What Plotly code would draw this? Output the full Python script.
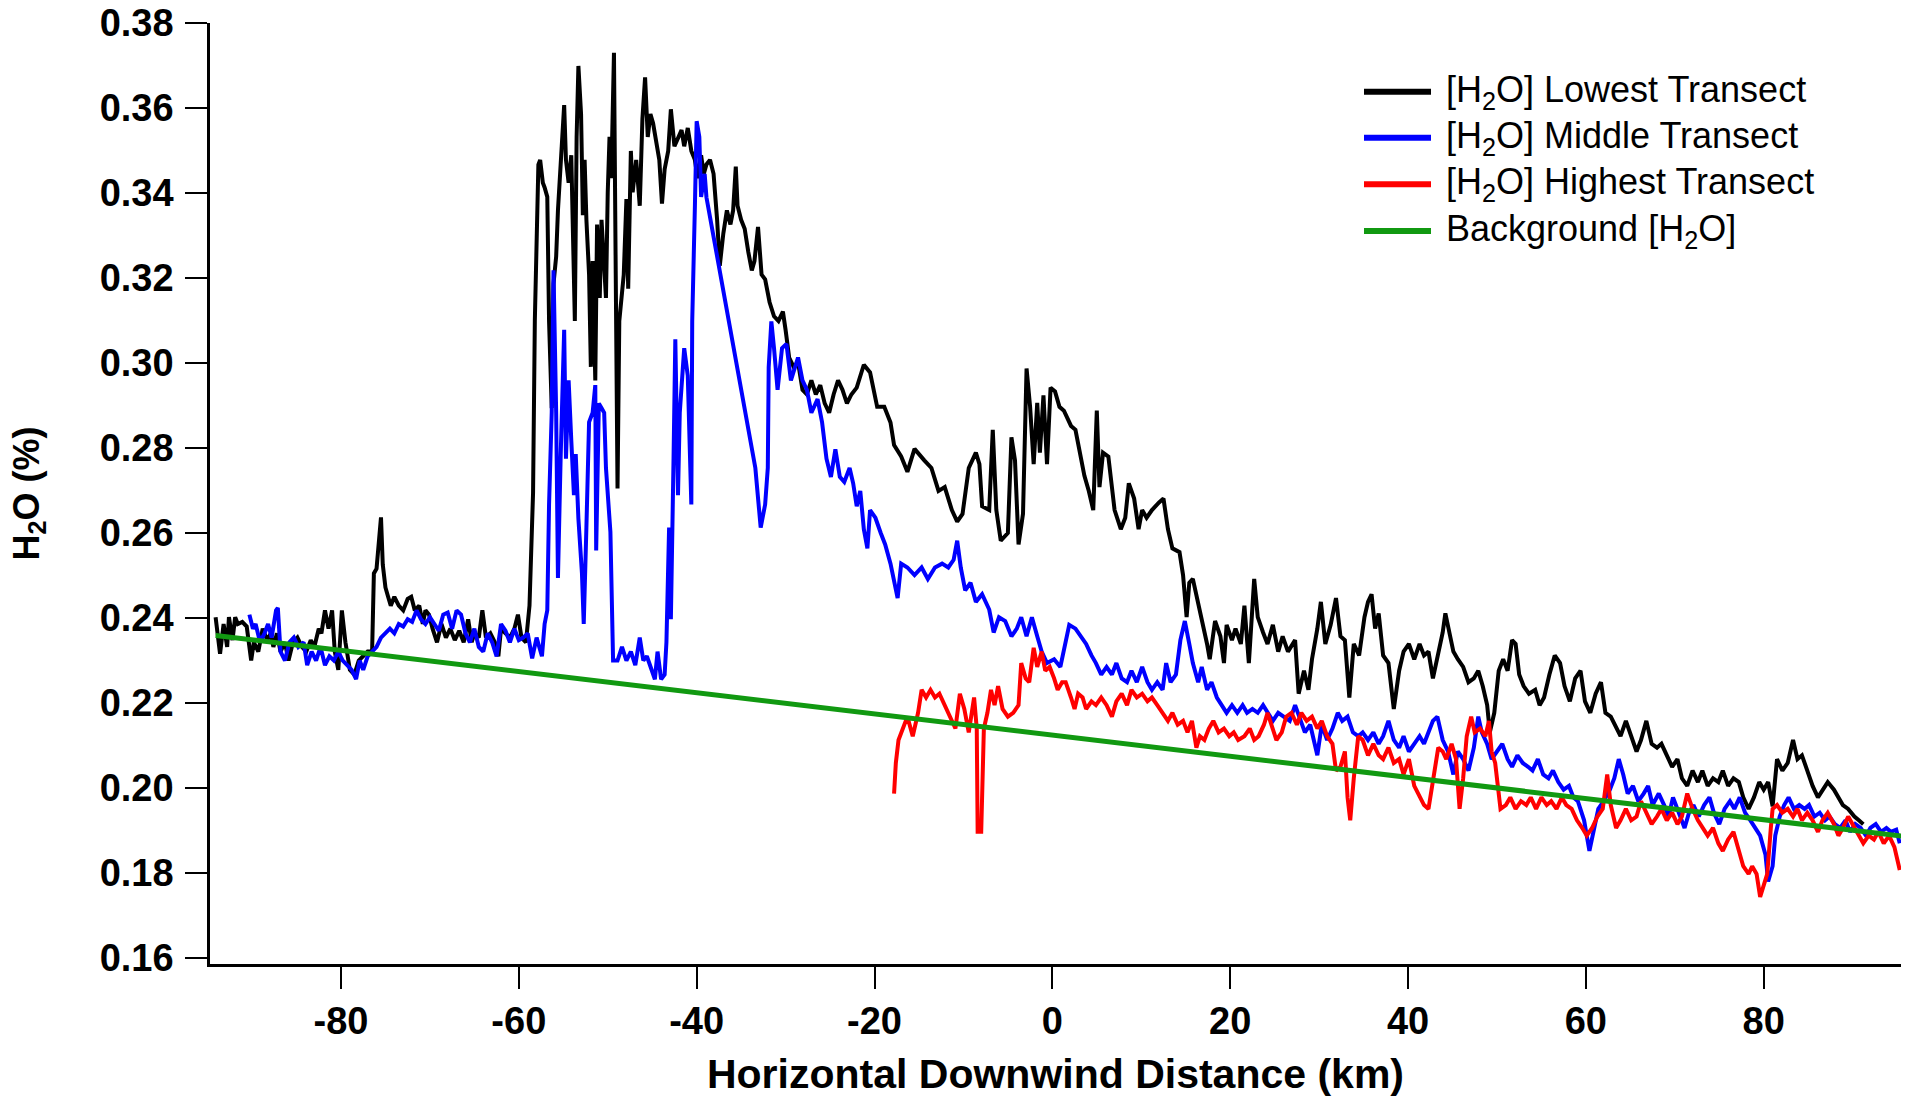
import plotly.graph_objects as go

# ---------------- data ----------------
low_x = [-94.1, -93.8, -93.6, -93.2, -92.8, -92.6, -92.2, -91.9, -91.6, -91.1, -90.6, -90.1, -89.8, -89.3, -88.8,
         -88.3, -87.9, -87.6, -87.2, -86.8, -86.3, -85.9, -85.4, -84.9, -84.4, -83.9, -83.4, -83.0, -82.5, -82.2,
         -81.8, -81.4, -81.0, -80.7, -80.3, -79.9, -79.5, -79.0, -78.5, -78.0, -77.5, -77.0, -76.5, -76.3, -76.0,
         -75.8, -75.5, -75.3, -75.0, -74.7, -74.4, -74.0, -73.5, -73.0, -72.5, -72.1, -71.7, -71.2, -70.8, -70.5,
         -70.1, -69.7, -69.2, -68.7, -68.2, -67.7, -67.2, -66.7, -66.2, -65.7, -65.3, -65.0, -64.5, -64.1, -63.7,
         -63.2, -62.7, -62.3, -62.0, -61.5, -61.0, -60.5, -60.1, -59.7, -59.2, -58.8, -58.6, -58.4, -58.2, -58.0,
         -57.8, -57.6, -57.3, -57.1, -56.8, -56.6, -56.3, -56.1, -55.8, -55.6, -55.3, -54.9, -54.7, -54.4, -54.1,
         -53.8, -53.7, -53.5, -53.3, -53.0, -52.8, -52.6, -52.4, -52.1, -51.9, -51.7, -51.4, -51.2, -50.9, -50.7,
         -50.4, -50.2, -50.0, -49.8, -49.6, -49.3, -49.1, -48.9, -48.7, -48.4, -48.2, -47.9, -47.7, -47.4, -47.2,
         -46.8, -46.4, -46.1, -45.8, -45.5, -45.2, -44.9, -44.5, -44.2, -43.9, -43.6, -43.2, -42.9, -42.5, -42.1,
         -41.7, -41.4, -41.0, -40.6, -40.2, -39.9, -39.5, -39.2, -38.9, -38.5, -38.1, -37.7, -37.4, -37.0, -36.6,
         -36.2, -35.9, -35.6, -35.4, -35.0, -34.6, -34.2, -33.8, -33.5, -33.1, -32.7, -32.3, -31.8, -31.3, -30.8,
         -30.3, -30.0, -29.6, -29.1, -28.6, -28.1, -27.6, -27.1, -26.6, -26.1, -25.6, -25.1, -24.6, -24.1, -23.6,
         -23.1, -22.6, -22.0, -21.2, -20.5, -19.7, -18.9, -18.2, -17.8, -17.0, -16.3, -15.5, -14.4, -13.6, -12.8,
         -12.1, -11.3, -10.7, -10.1, -9.4, -8.6, -8.2, -7.9, -7.1, -6.7, -6.3, -5.8, -5.0, -4.6, -4.2,
         -3.8, -3.3, -2.9, -2.5, -2.1, -1.7, -1.4, -1.0, -0.6, -0.2, 0.3, 0.8, 1.3, 2.1, 2.6,
         3.2, 3.6, 4.1, 4.6, 5.0, 5.3, 5.7, 6.3, 6.7, 7.0, 7.7, 8.2, 8.6, 9.2, 9.7,
         10.1, 10.6, 11.2, 12.0, 12.5, 13.0, 13.5, 14.3, 14.7, 15.1, 15.4, 15.8, 16.4, 16.8, 17.4,
         17.7, 18.3, 18.9, 19.3, 19.6, 20.2, 20.6, 21.2, 21.6, 22.1, 22.7, 23.1, 23.7, 24.2, 24.8,
         25.4, 25.9, 26.5, 27.3, 27.7, 28.3, 28.8, 29.2, 29.8, 30.2, 30.7, 31.3, 31.9, 32.4, 32.9,
         33.4, 33.9, 34.5, 35.1, 35.5, 35.9, 36.3, 36.7, 37.2, 37.8, 38.4, 39.0, 39.5, 40.1, 40.7,
         41.3, 41.8, 42.3, 42.8, 43.3, 43.9, 44.2, 44.6, 45.1, 45.6, 46.2, 46.8, 47.4, 47.9, 48.4,
         48.9, 49.2, 49.7, 50.2, 50.7, 51.2, 51.7, 52.1, 52.5, 53.0, 53.6, 54.3, 54.8, 55.3, 55.9,
         56.5, 57.1, 57.6, 58.2, 58.8, 59.4, 59.9, 60.5, 61.1, 61.7, 62.2, 62.8, 63.4, 63.9, 64.5,
         65.1, 65.7, 66.2, 66.8, 67.4, 68.0, 68.5, 69.1, 69.7, 70.3, 70.8, 71.4, 72.0, 72.6, 73.1,
         73.7, 74.3, 74.9, 75.4, 76.0, 76.6, 77.2, 77.7, 78.3, 78.9, 79.5, 80.0, 80.5, 81.0, 81.5,
         82.1, 82.7, 83.3, 83.8, 84.3, 84.9, 85.5, 86.1, 86.6, 87.2, 87.9, 88.4, 88.9, 89.5, 90.2,
         90.7, 91.2]
low_y = [0.2402, 0.2348, 0.2316, 0.2386, 0.2332, 0.2402, 0.2348, 0.2402, 0.2386, 0.2391, 0.2380, 0.2300, 0.2343, 0.2321, 0.2375,
         0.2348, 0.2364, 0.2332, 0.2364, 0.2321, 0.2343, 0.2300, 0.2343, 0.2354, 0.2332, 0.2321, 0.2348, 0.2332, 0.2375, 0.2364,
         0.2418, 0.2375, 0.2418, 0.2321, 0.2278, 0.2418, 0.2343, 0.2278, 0.2267, 0.2300, 0.2310, 0.2321, 0.2321, 0.2505, 0.2516,
         0.2559, 0.2637, 0.2526, 0.2472, 0.2450, 0.2429, 0.2450, 0.2429, 0.2418, 0.2445, 0.2450, 0.2418, 0.2429, 0.2386, 0.2418,
         0.2408, 0.2375, 0.2343, 0.2386, 0.2354, 0.2375, 0.2348, 0.2370, 0.2343, 0.2397, 0.2343, 0.2364, 0.2354, 0.2418, 0.2354,
         0.2364, 0.2343, 0.2310, 0.2375, 0.2364, 0.2354, 0.2375, 0.2408, 0.2354, 0.2343, 0.2429, 0.2559, 0.2694, 0.3099, 0.3315,
         0.3467, 0.3478, 0.3424, 0.3413, 0.3391, 0.3099, 0.2894, 0.3186, 0.3251, 0.3359, 0.3456, 0.3607, 0.3478, 0.3424, 0.3489,
         0.3251, 0.3099, 0.3532, 0.3699, 0.3586, 0.3348, 0.3478, 0.3337, 0.3208, 0.2991, 0.3240, 0.2959, 0.3326, 0.3153, 0.3337,
         0.3208, 0.3153, 0.3402, 0.3532, 0.3435, 0.3730, 0.3208, 0.2705, 0.3099, 0.3164, 0.3208, 0.3386, 0.3175, 0.3499, 0.3402,
         0.3478, 0.3370, 0.3575, 0.3672, 0.3532, 0.3586, 0.3564, 0.3510, 0.3478, 0.3375, 0.3456, 0.3499, 0.3597, 0.3510, 0.3532,
         0.3548, 0.3510, 0.3553, 0.3499, 0.3478, 0.3435, 0.3489, 0.3445, 0.3467, 0.3478, 0.3445, 0.3337, 0.3229, 0.3305, 0.3359,
         0.3326, 0.3359, 0.3462, 0.3370, 0.3337, 0.3316, 0.3262, 0.3218, 0.3240, 0.3320, 0.3208, 0.3197, 0.3143, 0.3110, 0.3099,
         0.3121, 0.3078, 0.3013, 0.2991, 0.3002, 0.2937, 0.2926, 0.2959, 0.2926, 0.2948, 0.2905, 0.2883, 0.2926, 0.2959, 0.2937,
         0.2905, 0.2926, 0.2942, 0.2996, 0.2978, 0.2897, 0.2897, 0.2860, 0.2807, 0.2780, 0.2744, 0.2798, 0.2771, 0.2753, 0.2699,
         0.2708, 0.2654, 0.2627, 0.2645, 0.2753, 0.2789, 0.2762, 0.2663, 0.2654, 0.2843, 0.2654, 0.2582, 0.2600, 0.2825, 0.2771,
         0.2573, 0.2645, 0.2987, 0.2897, 0.2762, 0.2906, 0.2789, 0.2924, 0.2762, 0.2942, 0.2933, 0.2897, 0.2888, 0.2852, 0.2843,
         0.2771, 0.2735, 0.2699, 0.2654, 0.2888, 0.2708, 0.2789, 0.2780, 0.2708, 0.2654, 0.2609, 0.2636, 0.2717, 0.2681, 0.2609,
         0.2654, 0.2636, 0.2654, 0.2672, 0.2681, 0.2609, 0.2564, 0.2555, 0.2501, 0.2402, 0.2483, 0.2492, 0.2438, 0.2402, 0.2339,
         0.2303, 0.2393, 0.2357, 0.2294, 0.2384, 0.2348, 0.2375, 0.2339, 0.2429, 0.2294, 0.2492, 0.2402, 0.2366, 0.2339, 0.2384,
         0.2321, 0.2357, 0.2321, 0.2348, 0.2222, 0.2276, 0.2231, 0.2303, 0.2375, 0.2438, 0.2339, 0.2384, 0.2447, 0.2357, 0.2348,
         0.2213, 0.2339, 0.2312, 0.2402, 0.2438, 0.2456, 0.2375, 0.2411, 0.2312, 0.2294, 0.2186, 0.2276, 0.2321, 0.2339, 0.2303,
         0.2339, 0.2312, 0.2321, 0.2258, 0.2303, 0.2366, 0.2411, 0.2366, 0.2321, 0.2303, 0.2285, 0.2249, 0.2258, 0.2276, 0.2240,
         0.2195, 0.2131, 0.2177, 0.2276, 0.2303, 0.2276, 0.2348, 0.2339, 0.2267, 0.2240, 0.2222, 0.2231, 0.2195, 0.2213, 0.2267,
         0.2312, 0.2294, 0.2240, 0.2204, 0.2258, 0.2276, 0.2204, 0.2177, 0.2222, 0.2249, 0.2177, 0.2168, 0.2140, 0.2122, 0.2158,
         0.2122, 0.2086, 0.2113, 0.2158, 0.2104, 0.2095, 0.2104, 0.2077, 0.2050, 0.2068, 0.2023, 0.2005, 0.2041, 0.2014, 0.2041,
         0.2005, 0.2023, 0.2014, 0.2041, 0.2005, 0.2023, 0.2014, 0.1978, 0.1951, 0.1978, 0.2014, 0.1996, 0.2014, 0.1957, 0.2068,
         0.2041, 0.2059, 0.2113, 0.2068, 0.2077, 0.2041, 0.2005, 0.1978, 0.1996, 0.2014, 0.1996, 0.1978, 0.1960, 0.1951, 0.1933,
         0.1924, 0.1915]

mid_x = [-90.3, -89.9, -89.6, -89.1, -88.6, -88.2, -87.8, -87.3, -87.1, -86.8, -86.3, -85.8, -85.3, -84.8, -84.2,
         -83.8, -83.3, -82.8, -82.3, -81.8, -81.3, -80.8, -80.3, -79.8, -79.3, -78.8, -78.3, -77.9, -77.5, -77.0,
         -76.5, -76.0, -75.5, -75.0, -74.5, -74.0, -73.5, -73.0, -72.5, -72.0, -71.5, -71.0, -70.5, -70.0, -69.5,
         -69.0, -68.5, -68.0, -67.5, -67.0, -66.5, -66.0, -65.5, -65.0, -64.5, -64.0, -63.5, -63.0, -62.5, -62.0,
         -61.5, -61.0, -60.5, -60.0, -59.5, -59.0, -58.5, -58.0, -57.4, -57.1, -56.8, -56.6, -56.3, -56.1, -55.8,
         -55.6, -55.3, -54.9, -54.7, -54.4, -54.1, -53.8, -53.6, -53.3, -52.9, -52.7, -52.4, -52.1, -51.7, -51.4,
         -51.3, -51.0, -50.7, -50.4, -50.2, -49.9, -49.7, -49.4, -48.9, -48.4, -47.9, -47.4, -46.9, -46.4, -46.0,
         -45.6, -45.1, -44.7, -44.4, -44.0, -43.6, -43.4, -43.1, -42.9, -42.6, -42.4, -42.1, -41.9, -41.4, -41.0,
         -40.6, -40.5, -40.2, -40.0, -39.7, -39.5, -39.1, -38.9, -33.4, -32.8, -32.3, -32.0, -31.9, -31.6, -31.3,
         -30.9, -30.4, -29.9, -29.4, -28.6, -28.1, -27.6, -27.1, -26.4, -25.9, -25.4, -24.9, -24.4, -23.9, -23.4,
         -22.8, -22.4, -22.0, -21.6, -21.2, -20.8, -20.5, -19.9, -19.3, -18.8, -18.2, -17.8, -17.4, -17.0, -16.3,
         -15.5, -14.7, -14.0, -13.2, -12.4, -11.7, -11.1, -10.7, -10.3, -9.8, -9.2, -8.6, -7.9, -7.1, -6.6,
         -6.0, -5.3, -4.6, -4.0, -3.5, -2.9, -2.3, -1.7, -1.2, -0.6, 0.2, 0.9, 1.5, 1.9, 2.6,
         3.2, 3.8, 4.4, 4.9, 5.5, 6.1, 6.7, 7.2, 7.8, 8.4, 8.9, 9.5, 10.1, 10.7, 11.2,
         11.8, 12.4, 12.8, 13.3, 13.9, 14.4, 14.9, 15.4, 15.8, 16.4, 16.8, 17.4, 17.9, 18.5, 19.1,
         19.6, 20.2, 20.8, 21.4, 21.9, 22.5, 23.1, 23.7, 24.2, 24.8, 25.4, 26.1, 26.7, 27.3, 27.8,
         28.4, 29.0, 29.8, 30.3, 30.9, 31.5, 32.1, 32.6, 33.2, 33.8, 34.4, 34.9, 35.5, 36.1, 36.7,
         37.2, 37.8, 38.4, 39.0, 39.5, 40.1, 40.7, 41.3, 41.8, 42.3, 42.8, 43.3, 43.9, 44.5, 45.1,
         45.6, 46.2, 46.8, 47.4, 47.9, 48.3, 48.9, 49.4, 50.0, 50.6, 51.2, 51.7, 52.3, 52.9, 53.5,
         54.0, 54.6, 55.2, 55.8, 56.3, 56.9, 57.5, 58.1, 58.6, 59.1, 59.8, 60.4, 60.9, 61.4, 62.0,
         62.7, 63.2, 63.7, 64.2, 64.7, 65.3, 65.9, 66.5, 67.0, 67.5, 68.2, 68.8, 69.3, 69.8, 70.4,
         71.1, 71.6, 72.1, 72.7, 73.3, 73.9, 74.4, 75.0, 75.6, 76.2, 76.7, 77.3, 77.9, 78.5, 79.0,
         79.6, 80.2, 80.5, 81.0, 81.3, 81.8, 82.3, 82.8, 83.4, 84.0, 84.6, 85.1, 85.7, 86.3, 86.9,
         87.4, 88.0, 88.6, 89.2, 89.7, 90.3, 90.9, 91.5, 92.0, 92.6, 93.2, 93.8, 94.3, 94.9, 95.3]
mid_y = [0.2408, 0.2375, 0.2386, 0.2343, 0.2364, 0.2386, 0.2354, 0.2418, 0.2424, 0.2321, 0.2300, 0.2343, 0.2354, 0.2332, 0.2343,
         0.2289, 0.2321, 0.2300, 0.2332, 0.2289, 0.2310, 0.2300, 0.2321, 0.2300, 0.2289, 0.2278, 0.2256, 0.2300, 0.2278, 0.2310,
         0.2321, 0.2332, 0.2354, 0.2364, 0.2375, 0.2364, 0.2386, 0.2380, 0.2397, 0.2391, 0.2418, 0.2397, 0.2386, 0.2402, 0.2386,
         0.2370, 0.2408, 0.2413, 0.2375, 0.2418, 0.2408, 0.2364, 0.2343, 0.2375, 0.2332, 0.2321, 0.2364, 0.2343, 0.2310, 0.2386,
         0.2370, 0.2343, 0.2375, 0.2348, 0.2354, 0.2364, 0.2305, 0.2354, 0.2310, 0.2386, 0.2418, 0.2667, 0.2883, 0.3218, 0.2883,
         0.2494, 0.2775, 0.3078, 0.2775, 0.2959, 0.2818, 0.2689, 0.2786, 0.2634, 0.2505, 0.2386, 0.2613, 0.2861, 0.2883, 0.2948,
         0.2559, 0.2905, 0.2894, 0.2883, 0.2753, 0.2667, 0.2602, 0.2300, 0.2300, 0.2332, 0.2300, 0.2321, 0.2289, 0.2354, 0.2300,
         0.2310, 0.2278, 0.2256, 0.2321, 0.2256, 0.2267, 0.2343, 0.2613, 0.2397, 0.2775, 0.3056, 0.2689, 0.2883, 0.3035, 0.2970,
         0.2667, 0.3099, 0.3367, 0.3569, 0.3532, 0.3391, 0.3445, 0.3390, 0.2753, 0.2613, 0.2667, 0.2753, 0.2990, 0.3098, 0.3035,
         0.2937, 0.3035, 0.3045, 0.2959, 0.3013, 0.2959, 0.2937, 0.2883, 0.2915, 0.2861, 0.2775, 0.2732, 0.2797, 0.2732, 0.2720,
         0.2753, 0.2717, 0.2663, 0.2699, 0.2609, 0.2564, 0.2654, 0.2636, 0.2600, 0.2573, 0.2528, 0.2483, 0.2447, 0.2528, 0.2519,
         0.2501, 0.2519, 0.2492, 0.2519, 0.2528, 0.2519, 0.2537, 0.2582, 0.2519, 0.2465, 0.2483, 0.2438, 0.2456, 0.2420, 0.2366,
         0.2402, 0.2393, 0.2357, 0.2375, 0.2402, 0.2357, 0.2402, 0.2357, 0.2321, 0.2294, 0.2303, 0.2285, 0.2339, 0.2384, 0.2375,
         0.2357, 0.2339, 0.2312, 0.2294, 0.2267, 0.2285, 0.2267, 0.2294, 0.2258, 0.2249, 0.2276, 0.2249, 0.2285, 0.2249, 0.2231,
         0.2249, 0.2231, 0.2294, 0.2249, 0.2267, 0.2348, 0.2393, 0.2339, 0.2294, 0.2249, 0.2285, 0.2231, 0.2249, 0.2213, 0.2195,
         0.2177, 0.2195, 0.2177, 0.2195, 0.2177, 0.2186, 0.2177, 0.2195, 0.2177, 0.2158, 0.2177, 0.2168, 0.2158, 0.2195, 0.2168,
         0.2131, 0.2149, 0.2077, 0.2149, 0.2113, 0.2140, 0.2177, 0.2158, 0.2168, 0.2131, 0.2122, 0.2131, 0.2113, 0.2131, 0.2104,
         0.2122, 0.2158, 0.2113, 0.2095, 0.2122, 0.2086, 0.2104, 0.2122, 0.2104, 0.2131, 0.2158, 0.2168, 0.2113, 0.2086, 0.2032,
         0.2086, 0.2068, 0.2041, 0.2095, 0.2168, 0.2131, 0.2104, 0.2068, 0.2086, 0.2104, 0.2068, 0.2050, 0.2077, 0.2059, 0.2050,
         0.2041, 0.2068, 0.2032, 0.2023, 0.2041, 0.2014, 0.1996, 0.2005, 0.1978, 0.1969, 0.1924, 0.1852, 0.1906, 0.1951, 0.1969,
         0.1996, 0.2023, 0.2068, 0.2032, 0.1987, 0.2005, 0.1969, 0.1987, 0.2005, 0.1960, 0.1987, 0.1960, 0.1933, 0.1978, 0.1942,
         0.1906, 0.1942, 0.1960, 0.1933, 0.1960, 0.1978, 0.1942, 0.1915, 0.1951, 0.1969, 0.1951, 0.1978, 0.1942, 0.1924, 0.1906,
         0.1888, 0.1843, 0.1780, 0.1816, 0.1888, 0.1933, 0.1960, 0.1978, 0.1951, 0.1960, 0.1951, 0.1960, 0.1933, 0.1942, 0.1924,
         0.1933, 0.1915, 0.1906, 0.1924, 0.1897, 0.1915, 0.1906, 0.1888, 0.1906, 0.1915, 0.1897, 0.1906, 0.1897, 0.1902, 0.1870]

high_x = [-17.8, -17.6, -17.3, -16.8, -16.3, -15.7, -15.1, -14.7, -14.2, -13.7, -13.2, -12.7, -12.1, -11.4, -10.9,
          -10.4, -9.9, -9.4, -8.8, -8.5, -8.4, -8.0, -7.7, -7.3, -6.9, -6.5, -6.1, -5.6, -5.0, -4.4,
          -3.8, -3.5, -3.0, -2.6, -2.1, -1.7, -1.2, -0.8, -0.3, 0.2, 0.6, 1.1, 1.5, 2.1, 2.5,
          2.9, 3.4, 3.8, 4.4, 4.9, 5.5, 6.1, 6.7, 7.2, 7.8, 8.4, 8.9, 9.5, 10.1, 10.7,
          11.2, 11.8, 12.4, 13.0, 13.5, 14.1, 14.7, 15.2, 15.7, 16.2, 16.6, 17.1, 17.6, 18.1, 18.7,
          19.3, 19.9, 20.4, 20.9, 21.6, 22.2, 22.7, 23.2, 23.8, 24.2, 24.6, 25.2, 25.8, 26.3, 26.9,
          27.5, 28.0, 28.6, 29.2, 29.8, 30.3, 30.9, 31.5, 31.9, 32.4, 32.9, 33.2, 33.5, 33.9, 34.4,
          34.9, 35.5, 36.1, 36.7, 37.2, 37.8, 38.4, 39.0, 39.5, 40.1, 40.7, 41.3, 41.8, 42.3, 42.9,
          43.4, 43.9, 44.3, 44.9, 45.4, 45.8, 46.2, 46.6, 47.1, 47.5, 48.1, 48.7, 49.1, 49.4, 49.8,
          50.4, 51.0, 51.5, 52.1, 52.7, 53.3, 53.8, 54.4, 55.0, 55.6, 56.1, 56.7, 57.3, 57.8, 58.4,
          59.0, 59.6, 60.1, 60.7, 61.3, 61.9, 62.4, 62.8, 63.4, 63.9, 64.5, 65.1, 65.7, 66.2, 66.8,
          67.4, 68.0, 68.5, 69.1, 69.7, 70.3, 70.8, 71.4, 72.0, 72.6, 73.1, 73.7, 74.3, 74.9, 75.4,
          76.0, 76.6, 77.2, 77.7, 78.3, 78.7, 79.2, 79.6, 80.0, 80.4, 80.8, 81.0, 81.5, 82.1, 82.7,
          83.3, 83.8, 84.3, 84.9, 85.5, 86.1, 86.6, 87.2, 87.9, 88.4, 88.9, 89.5, 90.2, 90.7, 91.2,
          91.8, 92.4, 92.9, 93.5, 94.1, 94.7, 95.3]
high_y = [0.1987, 0.2059, 0.2113, 0.2140, 0.2168, 0.2122, 0.2177, 0.2231, 0.2213, 0.2231, 0.2213, 0.2222, 0.2195, 0.2168, 0.2140,
          0.2222, 0.2186, 0.2131, 0.2213, 0.2140, 0.1897, 0.1897, 0.2140, 0.2177, 0.2231, 0.2195, 0.2240, 0.2186, 0.2168, 0.2177,
          0.2195, 0.2294, 0.2258, 0.2249, 0.2330, 0.2285, 0.2321, 0.2276, 0.2285, 0.2258, 0.2231, 0.2249, 0.2249, 0.2213, 0.2186,
          0.2222, 0.2213, 0.2186, 0.2204, 0.2195, 0.2213, 0.2195, 0.2168, 0.2204, 0.2222, 0.2195, 0.2231, 0.2213, 0.2222, 0.2204,
          0.2213, 0.2195, 0.2177, 0.2158, 0.2177, 0.2149, 0.2158, 0.2131, 0.2158, 0.2095, 0.2122, 0.2113, 0.2140, 0.2158, 0.2131,
          0.2140, 0.2122, 0.2131, 0.2113, 0.2122, 0.2140, 0.2113, 0.2122, 0.2149, 0.2177, 0.2149, 0.2113, 0.2131, 0.2168, 0.2177,
          0.2149, 0.2177, 0.2158, 0.2168, 0.2140, 0.2158, 0.2122, 0.2104, 0.2041, 0.2050, 0.2086, 0.1978, 0.1924, 0.2023, 0.2122,
          0.2113, 0.2077, 0.2104, 0.2077, 0.2068, 0.2095, 0.2059, 0.2068, 0.2032, 0.2068, 0.2005, 0.1978, 0.1960, 0.1951, 0.2023,
          0.2095, 0.2086, 0.2068, 0.2104, 0.2068, 0.1951, 0.2023, 0.2122, 0.2168, 0.2131, 0.2140, 0.2122, 0.2158, 0.2086, 0.2059,
          0.1951, 0.1960, 0.1978, 0.1951, 0.1969, 0.1960, 0.1978, 0.1951, 0.1978, 0.1960, 0.1969, 0.1951, 0.1978, 0.1960, 0.1951,
          0.1924, 0.1906, 0.1888, 0.1906, 0.1933, 0.1951, 0.2032, 0.1960, 0.1906, 0.1924, 0.1951, 0.1924, 0.1933, 0.1969, 0.1942,
          0.1915, 0.1933, 0.1951, 0.1924, 0.1942, 0.1915, 0.1933, 0.1987, 0.1951, 0.1924, 0.1906, 0.1888, 0.1906, 0.1870, 0.1852,
          0.1879, 0.1897, 0.1852, 0.1816, 0.1798, 0.1816, 0.1798, 0.1744, 0.1771, 0.1798, 0.1906, 0.1951, 0.1960, 0.1942, 0.1951,
          0.1933, 0.1951, 0.1924, 0.1942, 0.1924, 0.1897, 0.1924, 0.1942, 0.1915, 0.1888, 0.1906, 0.1933, 0.1906, 0.1888, 0.1870,
          0.1888, 0.1879, 0.1897, 0.1870, 0.1888, 0.1861, 0.1807]

bg_x = [-94.1, 95.5]
bg_y = [0.2359, 0.1887]

x_ticks = [-80, -60, -40, -20, 0, 20, 40, 60, 80]
y_ticks = [0.16, 0.18, 0.20, 0.22, 0.24, 0.26, 0.28, 0.30, 0.32, 0.34, 0.36, 0.38]

names = ["[H<sub>2</sub>O] Lowest Transect", "[H<sub>2</sub>O] Middle Transect",
         "[H<sub>2</sub>O] Highest Transect", "Background [H<sub>2</sub>O]"]
colors = ["#000000", "#0000FF", "#FF0000", "#119911"]
widths = [4, 4, 4, 5]

# ---------------- figure ----------------
FONT = "Liberation Sans, Arial, sans-serif"
W, H = 1915, 1097
ML, MR, MT, MB = 210, 14, 23, 133
PW, PH = W - ML - MR, H - MT - MB

def px_to_paper_x(px):
    return (px - ML) / PW

def px_to_paper_y(py):
    return (H - MB - py) / PH

fig = go.Figure()
series = [(low_x, low_y), (mid_x, mid_y), (high_x, high_y), (bg_x, bg_y)]
for (xs, ys), nm, col, w in zip(series, names, colors, widths):
    fig.add_trace(go.Scatter(x=xs, y=ys, mode="lines", name=nm, showlegend=False,
                             line=dict(color=col, width=w)))

# legend drawn as line samples + text (matches the reference's long samples)
leg_rows_px = [91.7, 137.7, 184.3, 231.0]
for nm, col, py in zip(names, colors, leg_rows_px):
    yp = px_to_paper_y(py)
    fig.add_shape(type="line", xref="paper", yref="paper",
                  x0=px_to_paper_x(1364), x1=px_to_paper_x(1431), y0=yp, y1=yp,
                  line=dict(color=col, width=6))
    fig.add_annotation(xref="paper", yref="paper", x=px_to_paper_x(1444), y=yp,
                       text=nm, showarrow=False, xanchor="left", yanchor="middle",
                       font=dict(family=FONT, size=36, color="black"))

fig.update_layout(
    width=W, height=H,
    paper_bgcolor="white", plot_bgcolor="white",
    margin=dict(l=ML, r=MR, t=MT, b=MB, autoexpand=False),
    font=dict(family=FONT, color="black"),
    showlegend=False,
)
fig.update_xaxes(
    range=[-94.73, 95.44], tickmode="array", tickvals=x_ticks,
    ticktext=[str(v) for v in x_ticks],
    ticks="outside", ticklen=22, tickwidth=2, tickcolor="black",
    showline=True, linecolor="black", linewidth=2.5, mirror=False,
    showgrid=False, zeroline=False, automargin=False,
    tickfont=dict(family=FONT, size=38, color="black", weight="bold"),
    title=dict(text="<b>Horizontal Downwind Distance (km)</b>",
               font=dict(family=FONT, size=41, color="black"), standoff=22),
)
fig.update_yaxes(
    range=[0.1586, 0.38], tickmode="array", tickvals=y_ticks,
    ticktext=[f"{v:.2f}" for v in y_ticks],
    ticks="outside", ticklen=22, tickwidth=2, tickcolor="black",
    showline=True, linecolor="black", linewidth=2.5, mirror=False,
    showgrid=False, zeroline=False, automargin=False, ticklabelstandoff=4,
    tickfont=dict(family=FONT, size=38, color="black", weight="bold"),
    title=dict(text="<b>H<sub>2</sub>O (%)</b>",
               font=dict(family=FONT, size=36, color="black"), standoff=50),
)

fig.write_html("out.html", config={"displayModeBar": False},
               post_script="document.body.style.margin='0px';document.body.style.overflow='hidden';")
